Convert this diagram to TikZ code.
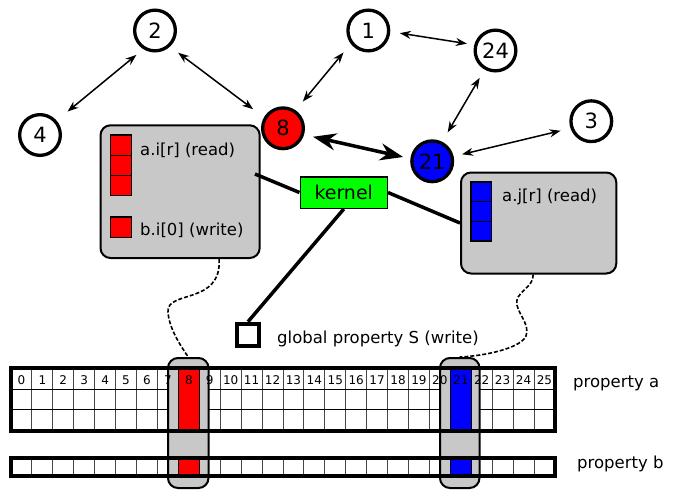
\documentclass[tikz,border=0pt]{standalone}
\usepackage{fontspec}
\setmainfont{DejaVu Sans}
\usetikzlibrary{arrows.meta}
\definecolor{boxgray}{RGB}{200,200,200}
\definecolor{kgreen}{RGB}{0,255,0}
\definecolor{gridgray}{RGB}{70,70,70}
\begin{document}
\begin{tikzpicture}[x=1pt,y=-1pt,
 numc/.style={circle,draw,line width=3.3pt,inner sep=0pt,minimum size=40.7pt,font=\fontsize{21}{25}\selectfont},
 lnk/.style={{Stealth[length=11pt,width=8pt]}-{Stealth[length=11pt,width=8pt]},line width=1.5pt},
 biglnk/.style={{Stealth[length=23pt,width=17pt]}-{Stealth[length=23pt,width=17pt]},line width=3.5pt},
 pbox/.style={draw,line width=2pt,fill=boxgray,rounded corners=10pt,inner sep=0pt},
 txt/.style={font=\fontsize{16.5}{20}\selectfont,inner sep=0pt,anchor=base west},
 numtxt/.style={font=\fontsize{12}{14}\selectfont,inner sep=0pt,anchor=base},
 wire/.style={line width=3.5pt},
 dwire/.style={dash pattern=on 4pt off 2pt,line width=1.6pt},
 cellr/.style={draw,line width=1.2pt,fill=red},
 cellb/.style={draw,line width=1.2pt,fill=blue},
 gridl/.style={draw=gridgray,line width=0.9pt},
 rowl/.style={draw=black,line width=0.9pt},
 arr/.style={draw,line width=4pt},
]
\useasboundingbox (0,0) rectangle (679,490);

% process boxes
\node[pbox,minimum width=159.2pt,minimum height=132.7pt] (lbox) at (180.1,191.65) {};
\node[pbox,minimum width=155.3pt,minimum height=101pt] (rbox) at (538.65,223) {};

% squares inside boxes
\draw[cellr] (110.5,135) rectangle (131.5,155.2);
\draw[cellr] (110.5,155.2) rectangle (131.5,175.4);
\draw[cellr] (110.5,175.4) rectangle (131.5,195.6);
\draw[cellr] (110.5,217) rectangle (131.5,237.5);
\draw[cellb] (471,182) rectangle (491.5,201.7);
\draw[cellb] (471,201.7) rectangle (491.5,221.4);
\draw[cellb] (471,221.4) rectangle (491.5,241);

\node[txt] (ta) at (140,155) {a.i[r] (read)};
\node[txt] (tb) at (140,235) {b.i[0] (write)};
\node[txt] (tj) at (502,201) {a.j[r] (read)};

% kernel and wires
\coordinate (kL) at (255,174);
\node[draw,line width=1.5pt,fill=kgreen,minimum width=87pt,minimum height=31.5pt,inner sep=0pt,font=\fontsize{19}{23}\selectfont] (kernel) at (343.75,192.5) {kernel};
\node[draw,line width=4pt,minimum size=22pt,inner sep=0pt] (gsq) at (248,334.7) {};
\draw[wire] (kernel.west) -- (kL);
\draw[wire] (kernel.east) -- (rbox.west);
\draw[wire] (kernel.south) -- (gsq.north);
\node[txt] (tg) at (277,343) {global property S (write)};

% circles
\node[numc] (c2) at (155,30.5) {2};
\node[numc] (c4) at (40,135) {4};
\node[numc,fill=red] (c8) at (283,128.3) {8};
\node[numc] (c1) at (368.3,30.5) {1};
\node[numc] (c24) at (495.5,50.5) {24};
\node[numc] (c3) at (591.3,121.2) {3};
\node[numc,fill=blue] (c21) at (432.2,161.3) {21};

\draw[lnk,shorten <=14.1pt,shorten >=9pt] (c4.41.6) -- (c2.238.9);
\draw[lnk,shorten <=10.2pt,shorten >=13.5pt] (c2.313.1) -- (c8.150.8);
\draw[lnk,shorten <=11.3pt,shorten >=11.3pt] (c8.55.2) -- (c1.217.9);
\draw[lnk,shorten <=9.7pt,shorten >=7.5pt] (c1.357.3) -- (c24.165.3);
\draw[lnk,shorten <=9.6pt,shorten >=10.8pt] (c24.240.6) -- (c21.63.2);
\draw[lnk,shorten <=8.7pt,shorten >=10.2pt] (c21.13.8) -- (c3.199.6);
\draw[biglnk,shorten <=9.2pt,shorten >=7.4pt] (c8.343.8) -- (c21.173.6);

% arrays
\def\cw{20.92}
\fill[white] (11,368) rectangle (555,431);
\fill[white] (11,458) rectangle (555,476);
\foreach \i in {1,...,25} \draw[gridl] ({11+\cw*\i},368) -- ({11+\cw*\i},431);
\draw[rowl] (11,389) -- (555,389) (11,409) -- (555,409);
\foreach \i in {1,...,25} \draw[gridl] ({11+\cw*\i},458) -- ({11+\cw*\i},476);

\node[pbox,minimum width=40.5pt,minimum height=130pt] (col8) at (188.25,423) {};
\node[pbox,minimum width=39.5pt,minimum height=130pt] (col21) at (459.75,423) {};

\draw[cellr] ({11+8*\cw},368) rectangle ({11+9*\cw},431);
\draw[cellr] ({11+8*\cw},458) rectangle ({11+9*\cw},476);
\draw[cellb] ({11+21*\cw},368) rectangle ({11+22*\cw},431);
\draw[cellb] ({11+21*\cw},458) rectangle ({11+22*\cw},476);

\draw[arr] (11,368) rectangle (555,431);
\draw[arr] (11,458) rectangle (555,476);

\foreach \i in {0,...,25} \node[numtxt] (n\i) at ({11+\cw*(\i+0.5)},384) {\i};

\node[txt] (pa) at (573,387) {property a};
\node[txt] (pb) at (577,468) {property b};

% dashed links
\draw[dwire] ([xshift=39pt]lbox.south) .. controls (222,305) and (166,290) .. (168,312) .. controls (169,328) and (180,345) .. (col8.north);
\draw[dwire] ([xshift=-5.5pt]rbox.south) .. controls (534,288) and (514,292) .. (517,305) .. controls (519,315) and (530,325) .. (526,336) .. controls (521,348) and (485,356) .. (col21.north);
\end{tikzpicture}
\end{document}
